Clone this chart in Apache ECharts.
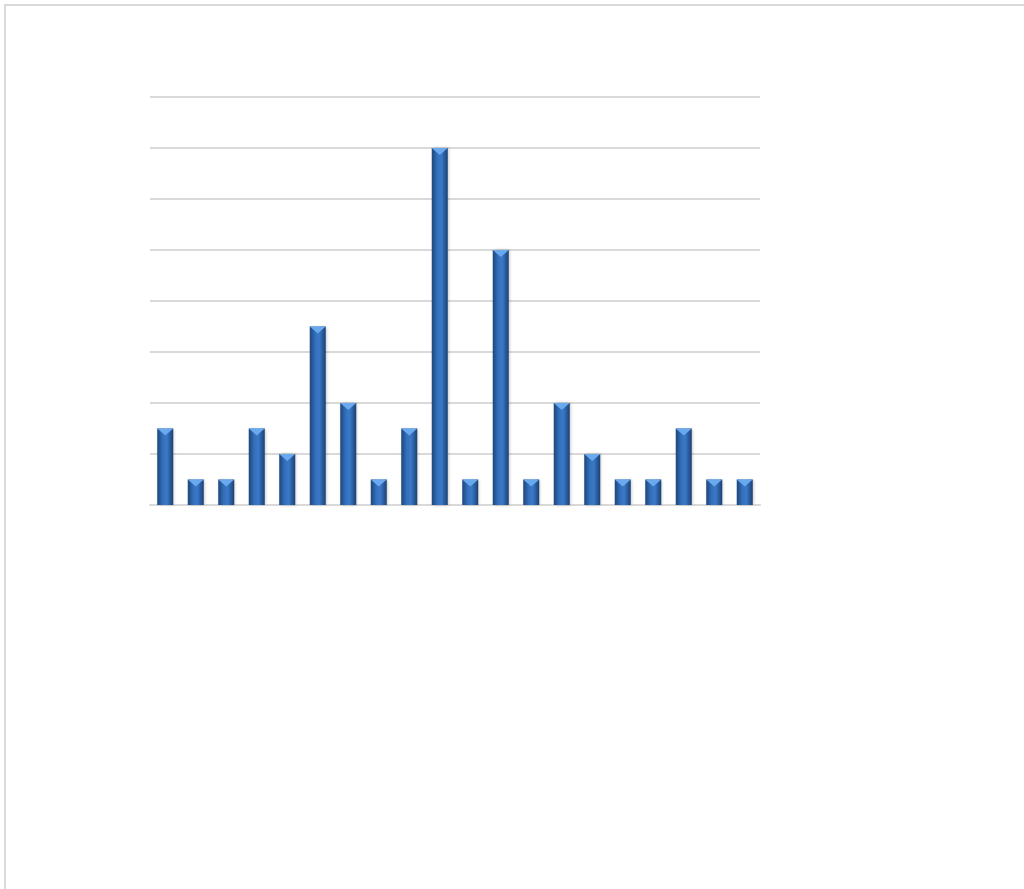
<!DOCTYPE html>
<html>
<head>
<meta charset="utf-8">
<script src="https://cdn.jsdelivr.net/npm/echarts@6/dist/echarts.min.js"></script>
<style>
html, body { margin: 0; padding: 0; background: #fff; }
#chart { width: 1024px; height: 889px; }
</style>
</head>
<body>
<div id="chart"></div>
<script>
// 20 categories, no visible labels in the picture
var categories = ['1','2','3','4','5','6','7','8','9','10','11','12','13','14','15','16','17','18','19','20'];
var values = [3, 1, 1, 3, 2, 7, 4, 1, 3, 14, 1, 10, 1, 4, 2, 1, 1, 3, 1, 1];
var yMax = 16;
var yStep = 2;

var myChart = echarts.init(document.getElementById('chart'));
var option = {
    animation: false,
    backgroundColor: '#ffffff',
    graphic: [{
        type: 'rect',
        shape: { x: 5, y: 5, width: 1040, height: 900 },
        style: { fill: 'none', stroke: '#d9d9d9', lineWidth: 2 }
    }],
    grid: { left: 150, right: 264, top: 97, bottom: 384 },
    xAxis: {
        type: 'category',
        data: categories,
        axisLine: { show: true, lineStyle: { color: '#d9d9d9', width: 2 } },
        axisTick: { show: false },
        axisLabel: { show: false }
    },
    yAxis: {
        type: 'value',
        min: 0,
        max: yMax,
        interval: yStep,
        axisLine: { show: false },
        axisTick: { show: false },
        axisLabel: { show: false },
        splitLine: { lineStyle: { color: '#d9d9d9', width: 2 } }
    },
    series: [
        {
            type: 'bar',
            data: values,
            barWidth: 16,
            itemStyle: {
                color: new echarts.graphic.LinearGradient(0, 0, 1, 0, [
                    { offset: 0, color: '#1d4679' },
                    { offset: 0.35, color: '#3470bd' },
                    { offset: 0.6, color: '#3a78c8' },
                    { offset: 1, color: '#1b4172' }
                ]),
                shadowColor: 'rgba(0,0,0,0.25)',
                shadowBlur: 3,
                shadowOffsetX: 1
            },
            z: 2
        },
        {
            // light cap on top of each bar
            type: 'pictorialBar',
            data: values,
            symbol: 'path://M0,0 L10,0 L5,5 Z',
            symbolSize: [16, 7],
            symbolPosition: 'end',
            itemStyle: { color: '#6aa9ee' },
            z: 3
        }
    ]
};
myChart.setOption(option);
</script>
</body>
</html>
